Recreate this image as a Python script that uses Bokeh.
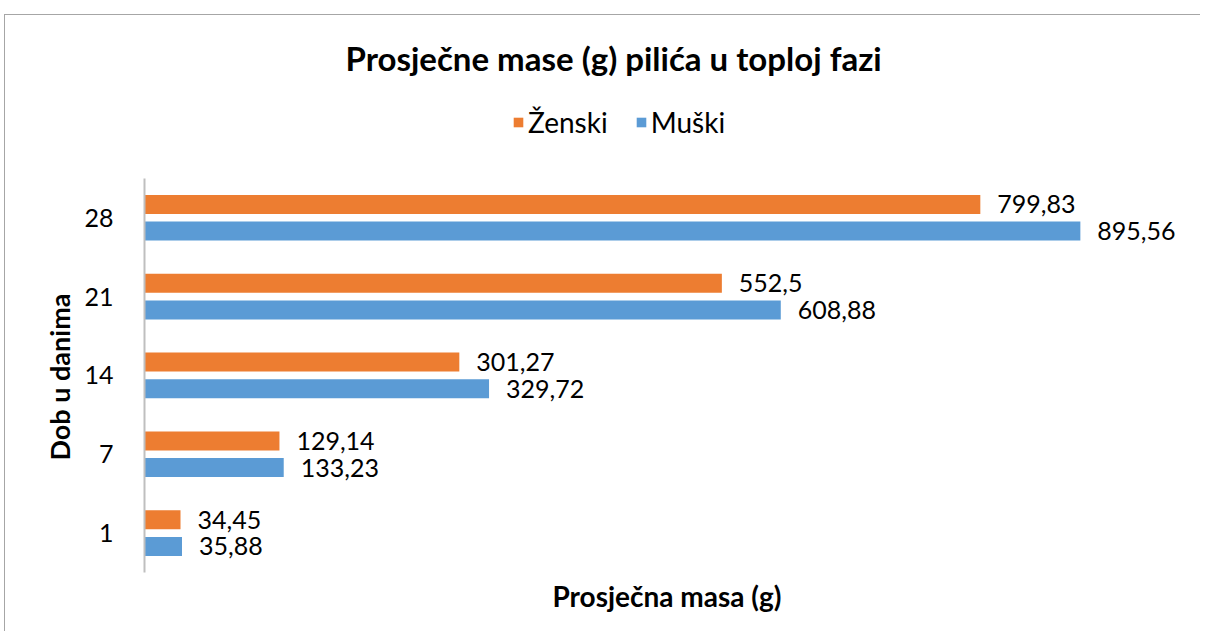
from bokeh.plotting import figure
from bokeh.models import ColumnDataSource, Range1d, LabelSet, Legend, LegendItem, Title, FixedTicker
from bokeh.core.properties import value
from bokeh.transform import dodge
from bokeh.embed import file_html
from bokeh.resources import INLINE

days = ["1", "7", "14", "21", "28"]
zenski = [34.45, 129.14, 301.27, 552.5, 799.83]
muski = [35.88, 133.23, 329.72, 608.88, 895.56]

def fmt(v):
    return ("%g" % v).replace(".", ",")

ypos = [i + 0.5 for i in range(len(days))]
src = ColumnDataSource(dict(
    y=ypos, day=days, z=zenski, m=muski,
    zl=[fmt(v) for v in zenski], ml=[fmt(v) for v in muski],
))

FONT = "Lato"
ORANGE = "#ED7D31"
BLUE = "#5B9BD5"
GRAY = "#A6A6A6"

p = figure(width=1200, height=631, y_range=Range1d(0, len(days) + 1), x_range=Range1d(0, 1000),
           output_backend="svg", toolbar_location=None,
           min_border_left=144, min_border_right=11, min_border_top=99, min_border_bottom=59)
p.border_fill_color = None
p.background_fill_color = None
p.styles = {
    "background": (f"linear-gradient({GRAY},{GRAY}) 4px 14px / 1px 100% no-repeat, "
                   f"linear-gradient({GRAY},{GRAY}) 4px 14px / 100% 1px no-repeat, white"),
}
p.outline_line_color = None
p.xgrid.visible = False
p.ygrid.visible = False

OFF = 0.169
rz = p.hbar(y=dodge("y", OFF), right="z", left=0, height=0.241,
            source=src, fill_color=ORANGE, line_color=None)
rm = p.hbar(y=dodge("y", -OFF), right="m", left=0, height=0.241,
            source=src, fill_color=BLUE, line_color=None)

for col, lab, off in (("z", "zl", OFF), ("m", "ml", -OFF)):
    p.add_layout(LabelSet(x=col, y=dodge("y", off), text=lab, source=src,
                          x_offset=17, text_baseline="middle", text_align="left",
                          text_font=value(FONT), text_font_size="25px", text_color="#000000"))

# y axis
ya = p.yaxis[0]
ya.ticker = FixedTicker(ticks=ypos)
ya.major_label_overrides = {y: d for y, d in zip(ypos, days)}
ya.bounds = (0, len(days))
ya.axis_line_color = "#BFBFBF"
ya.axis_line_width = 2
ya.major_tick_line_color = None
ya.minor_tick_line_color = None
ya.major_label_standoff = 25
ya.major_label_text_font = FONT
ya.major_label_text_font_size = "25px"
ya.major_label_text_color = "#000000"

# y axis title, centred on the category band part of the axis
p.add_layout(Title(text="Dob u danima", align="left", offset=112, standoff=11,
                   text_font=FONT, text_font_size="27px", text_font_style="bold",
                   text_color="#000000"), "left")

xa = p.xaxis[0]
xa.axis_line_color = None
xa.major_tick_line_color = None
xa.minor_tick_line_color = None
xa.major_label_text_font_size = "0px"
xa.major_label_text_color = None
xa.axis_label = "Prosječna masa (g)"
xa.axis_label_text_font = FONT
xa.axis_label_text_font_size = "28px"
xa.axis_label_text_font_style = "bold"
xa.axis_label_text_color = "#000000"
xa.axis_label_standoff = 0

legend = Legend(items=[LegendItem(label="Ženski", renderers=[rz]),
                       LegendItem(label="Muški", renderers=[rm])],
                orientation="horizontal", location=(368, 433),
                label_text_font=FONT, label_text_font_size="28px", label_text_color="#000000",
                glyph_width=12, glyph_height=12, label_standoff=4, spacing=27,
                border_line_color=None, background_fill_alpha=0, padding=0, margin=0)
p.add_layout(legend)

p.title = Title(text="Prosječne mase (g) pilića u toploj fazi", align="left", offset=201,
                standoff=44, text_font=FONT, text_font_size="33px", text_font_style="bold",
                text_color="#000000")

open("out.html", "w").write(file_html(p, INLINE))
